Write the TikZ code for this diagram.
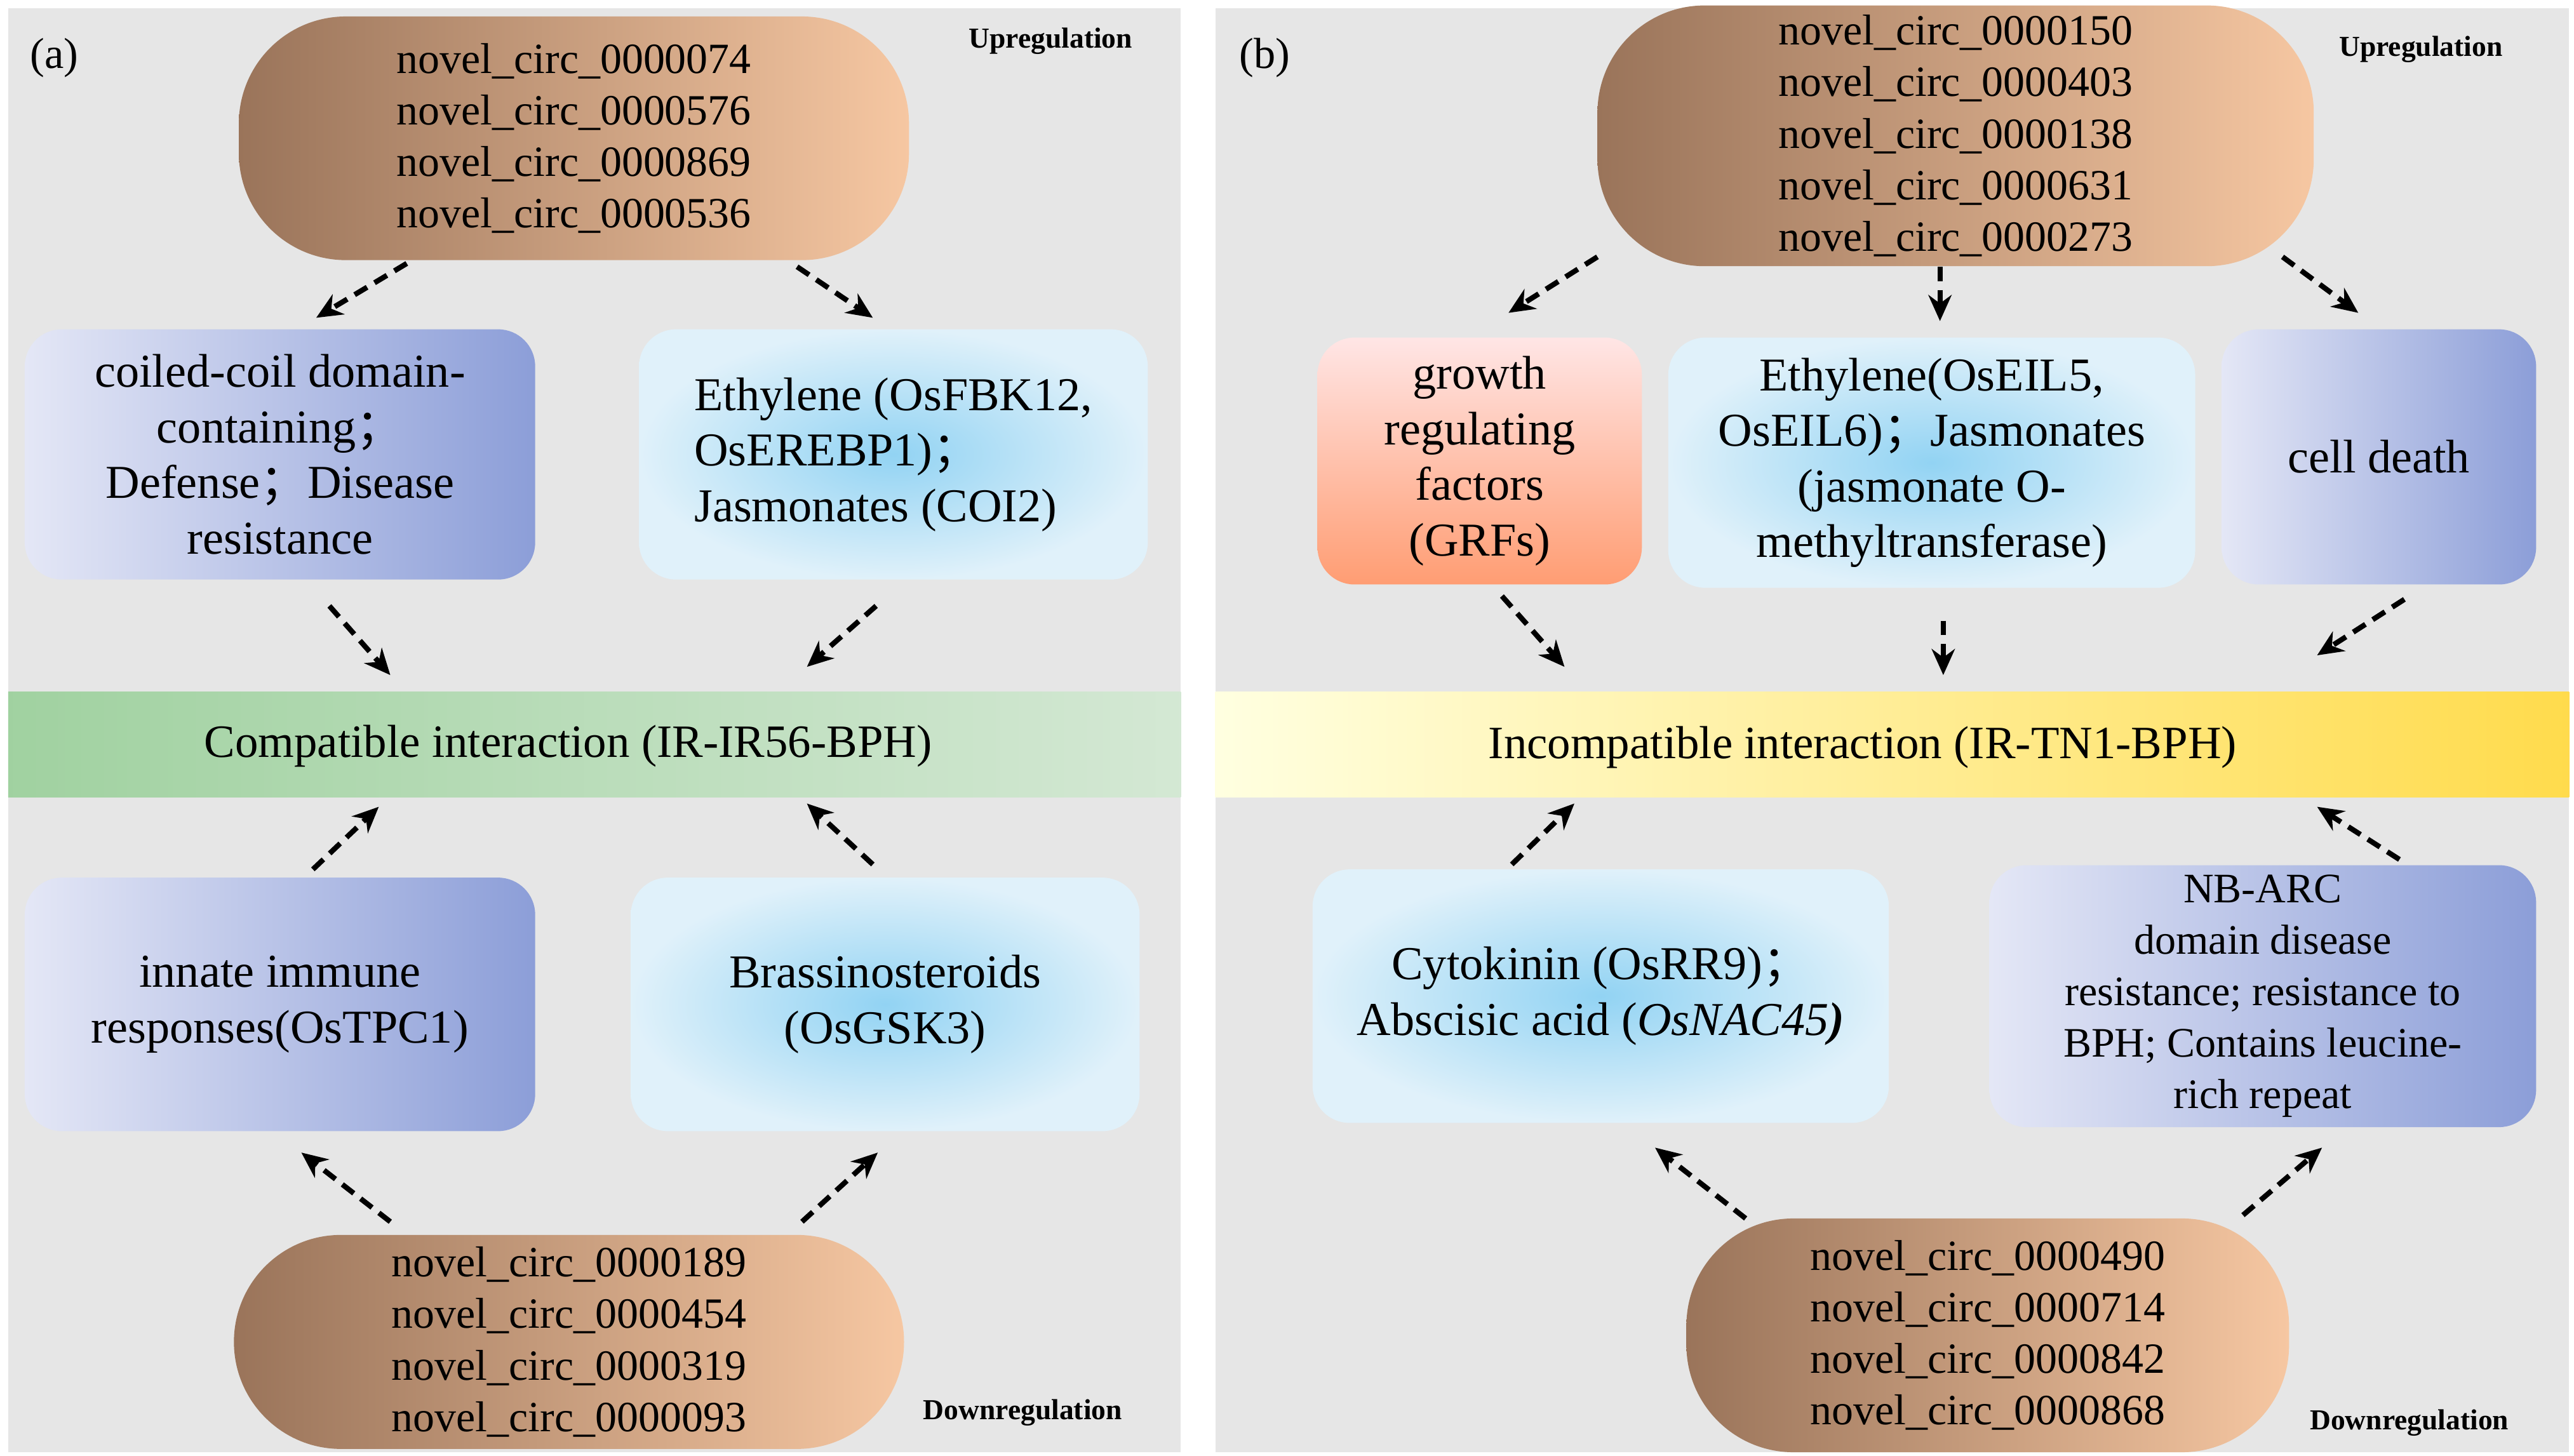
\documentclass[tikz,border=0pt]{standalone}
\usepackage{fontspec}
\setmainfont{Liberation Serif}
\newfontfamily\cjk{Noto Sans CJK SC}
\newcommand\fsc{{\cjk ；}}
\usetikzlibrary{arrows.meta}
\definecolor{panel}{HTML}{E6E6E6}
\definecolor{brownL}{HTML}{9A745A}
\definecolor{peach}{HTML}{F6C7A2}
\definecolor{purD}{HTML}{8C9ED8}
\definecolor{purL}{HTML}{E4E7F6}
\definecolor{bluI}{HTML}{92D3F3}
\definecolor{bluO}{HTML}{E0F1FA}
\begin{document}
\begin{tikzpicture}[x=0.02cm,y=-0.02cm,
 pill/.style={rounded corners=1.3cm,left color=brownL,right color=peach,align=center,font=\fontsize{14.9}{17.8}\selectfont},
 pur/.style={rounded corners=0.45cm,shading angle=225,left color=purL,right color=purD,align=center,font=\fontsize{16.3}{19.2}\selectfont},
 blu/.style={rounded corners=0.45cm,inner color=bluI,outer color=bluO,align=center,font=\fontsize{16.3}{19.2}\selectfont},
 arr/.style={line width=1.8pt,dash pattern=on 5pt off 3pt,-{Stealth[length=9pt,width=8pt]}},
 tag/.style={font=\bfseries\fontsize{10}{12}\selectfont},
 band/.style={font=\fontsize{16}{19}\selectfont}]
\useasboundingbox (0,0) rectangle (1563,884);
\fill[white] (0,0) rectangle (1563,884);
\fill[panel] (5,5) rectangle (717,882);
\fill[panel] (738,5) rectangle (1560,882);
% panel a
\node[font=\fontsize{15}{18}\selectfont] (la) at (33,35) {(a)};
\node[tag] (ua) at (638,25) {Upregulation};
\node[tag] (da) at (621,858) {Downregulation};
\node[pill,minimum width=8.14cm,minimum height=2.96cm] (ta) at (348.5,84) {novel\_circ\_0000074\\novel\_circ\_0000576\\novel\_circ\_0000869\\novel\_circ\_0000536};
\node[pur,minimum width=6.2cm,minimum height=3.04cm] (ca) at (170,276) {coiled-coil domain-\\containing\fsc\\Defense\fsc Disease\\resistance};
\node[blu,minimum width=6.18cm,minimum height=3.04cm,align=left] (ea) at (542.5,276) {Ethylene (OsFBK12,\\OsEREBP1)\fsc\\Jasmonates (COI2)};
\shade[left color=green!35!gray!55!white, right color=green!8!panel] (5,420) rectangle (717,484);
\node[band] (ba) at (345,453) {Compatible interaction (IR-IR56-BPH)};
\node[pur,minimum width=6.2cm,minimum height=3.08cm] (ia) at (170,610) {innate immune\\responses(OsTPC1)};
\node[blu,minimum width=6.18cm,minimum height=3.08cm] (bra) at (537.5,610) {Brassinosteroids\\(OsGSK3)};
\node[pill,minimum width=8.14cm,minimum height=2.6cm] (bota) at (345.5,815) {novel\_circ\_0000189\\novel\_circ\_0000454\\novel\_circ\_0000319\\novel\_circ\_0000093};
\draw[arr] (247,160) -- (192,193);
\draw[arr] (484,162) -- (530,193);
\draw[arr] (200,368) -- (237,410);
\draw[arr] (532,368) -- (490,405);
\draw[arr] (190,528) -- (230,490);
\draw[arr] (530,525) -- (490,488);
\draw[arr] (237,742) -- (183,700);
\draw[arr] (487,742) -- (533,700);
% panel b
\node[font=\fontsize{15}{18}\selectfont] (lb) at (768,35) {(b)};
\node[tag] (ub) at (1470,30) {Upregulation};
\node[tag] (db) at (1463,864) {Downregulation};
\node[pill,minimum width=8.7cm,minimum height=3.1cm] (tb) at (1187.5,82.5) {novel\_circ\_0000150\\novel\_circ\_0000403\\novel\_circ\_0000138\\novel\_circ\_0000631\\novel\_circ\_0000273};
\node[rounded corners=0.45cm,top color=pink!40!white,bottom color=red!40!orange!55!white,align=center,font=\fontsize{16.3}{19.2}\selectfont,minimum width=3.94cm,minimum height=3.0cm] (gb) at (898.5,280) {growth\\regulating\\factors\\(GRFs)};
\node[blu,minimum width=6.4cm,minimum height=3.04cm] (eb) at (1173,281) {Ethylene(OsEIL5,\\OsEIL6)\fsc Jasmonates\\(jasmonate O-\\methyltransferase)};
\node[pur,minimum width=3.82cm,minimum height=3.1cm] (cb) at (1444.5,277.5) {cell death};
\shade[left color=yellow!12!white, right color=orange!40!yellow!70!white] (738,420) rectangle (1560,484);
\node[band] (bb) at (1131,454) {Incompatible interaction (IR-TN1-BPH)};
\node[blu,minimum width=7.0cm,minimum height=3.08cm] (cyb) at (972,605) {Cytokinin (OsRR9)\fsc\\Abscisic acid (\textit{OsNAC45\textbf{)}}};
\node[pur,minimum width=6.64cm,minimum height=3.08cm,font=\fontsize{14.5}{17.8}\selectfont] (nb) at (1374,605) {NB-ARC\\domain disease\\resistance; resistance to\\BPH; Contains leucine-\\rich repeat};
\node[pill,minimum width=7.32cm,minimum height=2.84cm] (botb) at (1207,811) {novel\_circ\_0000490\\novel\_circ\_0000714\\novel\_circ\_0000842\\novel\_circ\_0000868};
\draw[arr] (970,156) -- (916,190);
\draw[arr] (1178,162) -- (1178,195);
\draw[arr] (1386,156) -- (1432,190);
\draw[arr] (912,362) -- (950,405);
\draw[arr] (1180,377) -- (1180,410);
\draw[arr] (1460,364) -- (1407,398);
\draw[arr] (918,525) -- (956,488);
\draw[arr] (1457,522) -- (1407,490);
\draw[arr] (1060,740) -- (1005,697);
\draw[arr] (1362,738) -- (1410,697);
\end{tikzpicture}
\end{document}
